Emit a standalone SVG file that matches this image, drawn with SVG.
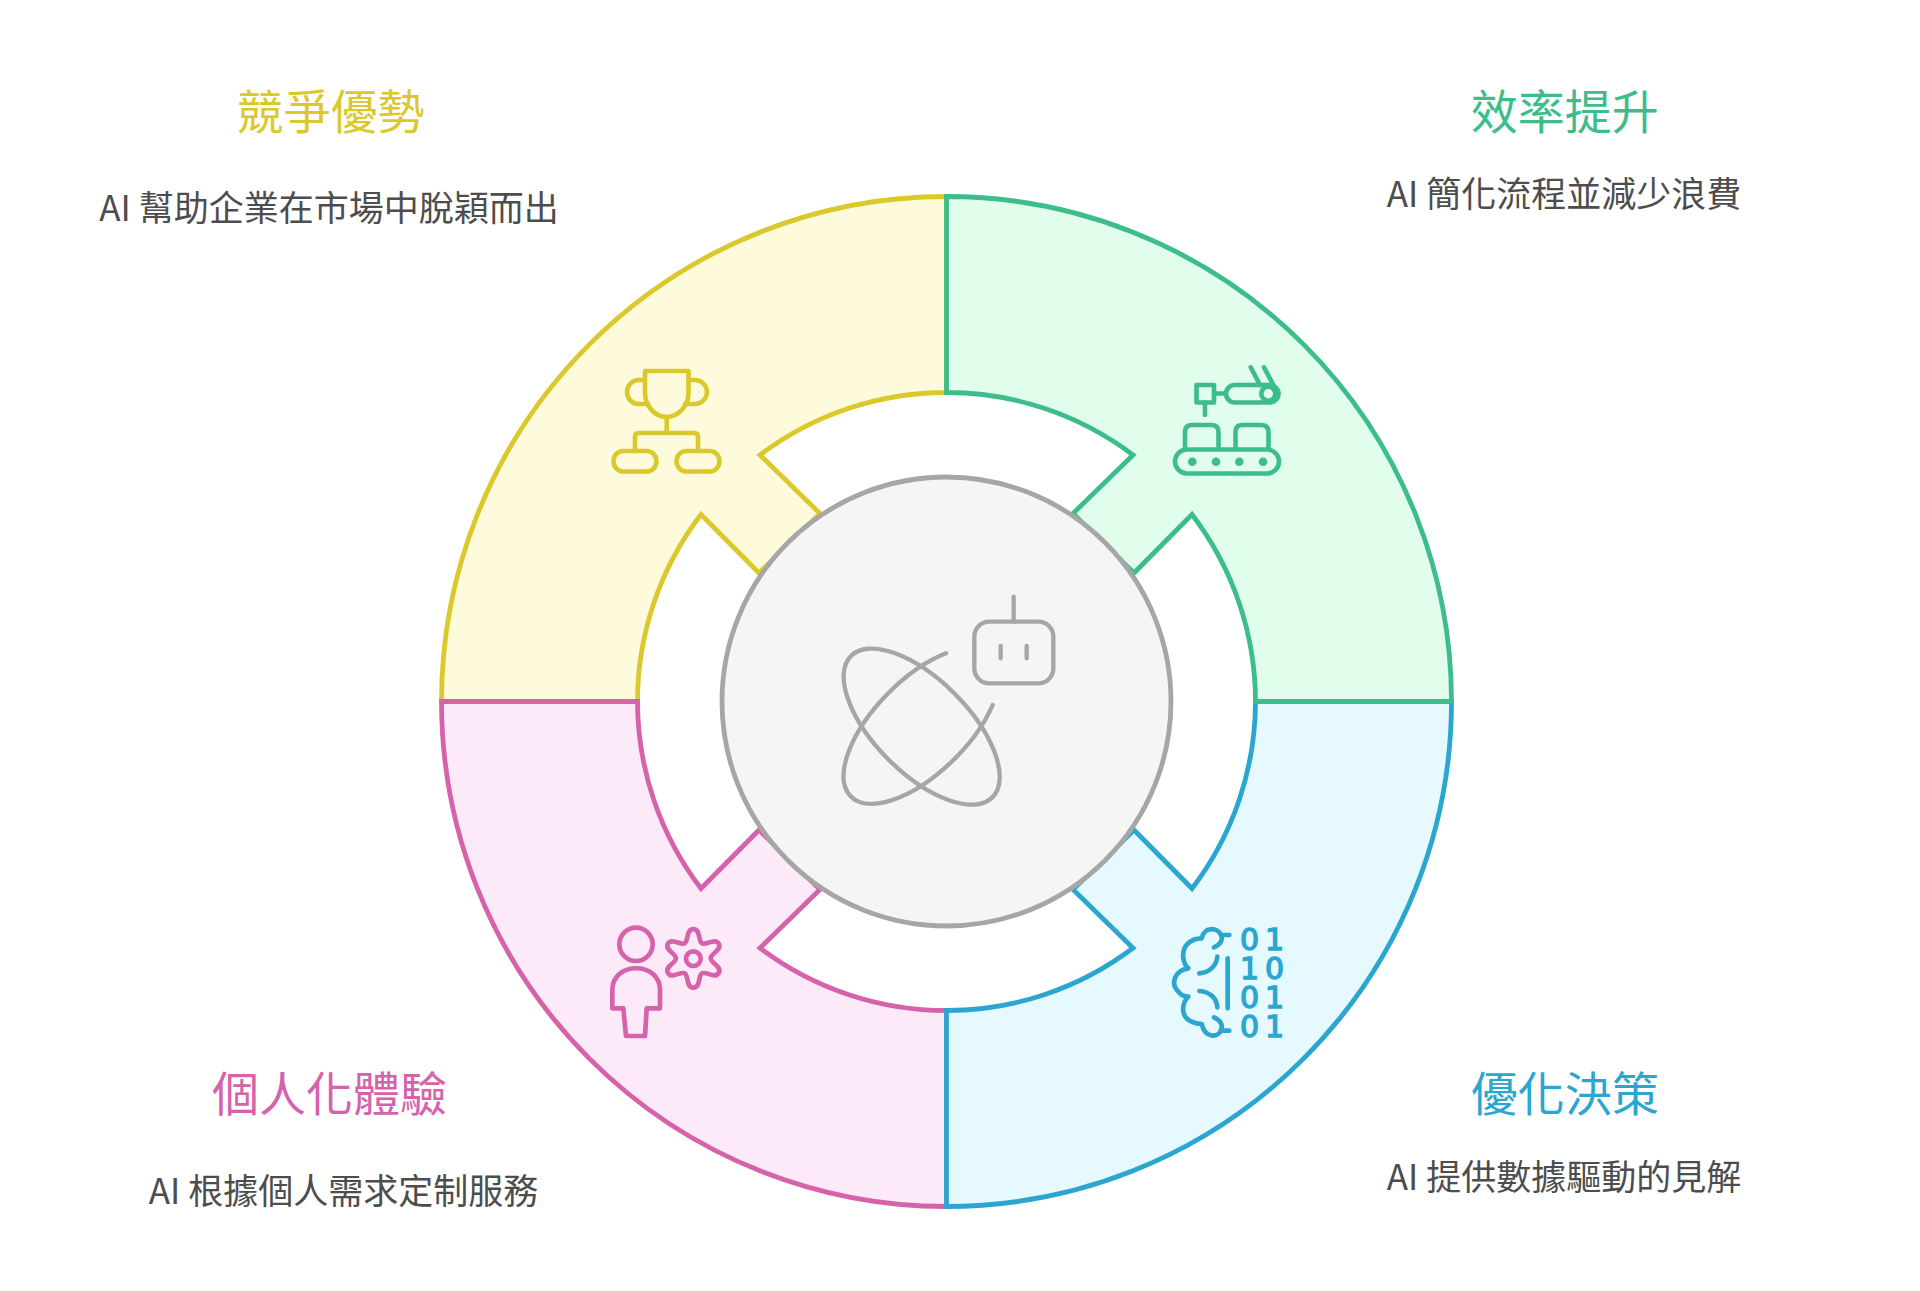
<svg xmlns="http://www.w3.org/2000/svg" width="1920" height="1291" viewBox="0 0 1920 1291">
<style>
.sector{stroke-width:4.8;stroke-linejoin:miter}
.ic{fill:none;stroke-linecap:round;stroke-linejoin:round}
.title{font-family:"Noto Sans CJK TC","Noto Sans",sans-serif;font-size:47px;text-anchor:middle}
.desc{font-family:"Noto Sans CJK TC","Noto Sans",sans-serif;font-size:35px;text-anchor:middle;fill:#4d4d4d}
.bit{font-family:"DejaVu Sans",sans-serif;font-size:30px;text-anchor:middle;fill:#2ba6d0;stroke:#2ba6d0;stroke-width:1.4px}
.yl{fill:#dbc92b}.gr{fill:#3dbd8c}.bl{fill:#2ba6d0}.pk{fill:#d662ab}
</style>
<rect width="1920" height="1291" fill="#fff"/>
<g id="competitive">
<path class="sector" fill="#fefadc" stroke="#dbc92b" d="M441.5,701.5A505,505 0 0 1 946.5,196.5V392.5A309,309 0 0 0 760,455L820,513.5L759,573L701,514.5A309,309 0 0 0 637.5,701.5Z"/>
<g class="ic" stroke="#dbc92b" stroke-width="4.6">
<path d="M645,371H688.5V393C688.5,406 678,417 666.7,417C655,417 645,406 645,393Z"/>
<path d="M645,380H638C632,380 627,386 627,392C627,398 632,404 638,404H648"/>
<path d="M688.5,380H695C702,380 707,386 707,392C707,398 702,404 695,404H685"/>
<path d="M666.7,417V433M635,450V437Q635,433 639,433H694Q698,433 698,437V450"/>
<rect x="613.5" y="451" width="43" height="20.5" rx="10"/>
<rect x="676.5" y="451" width="43" height="20.5" rx="10"/>
</g>
<text class="title yl" x="330.5" y="129">競爭優勢</text>
<text class="desc" x="329" y="221">AI 幫助企業在市場中脫穎而出</text>
</g>
<g id="personalized">
<path class="sector" fill="#fdeaf8" stroke="#d662ab" d="M946.5,1206.5A505,505 0 0 1 441.5,701.5H637.5A309,309 0 0 0 701,888.5L759,830L820,889.5L760,948A309,309 0 0 0 946.5,1010.5Z"/>
<g class="ic" stroke="#d662ab" stroke-width="14" transform="translate(590 900) scale(.33333)">
<circle cx="138" cy="133" r="50"/>
<path d="M67,325V270C67,183 210,183 210,270V325H170L165,408H108L100,325Z"/>
<circle cx="310" cy="176" r="22"/>
<path d="M310,87C332,87 323.9,123 336,130C348.1,137 375.2,111.95 386.2,131C397.2,150.05 362,161 362,175C362,189 397.2,199.95 386.2,219C375.2,238.05 348.1,213 336,220C323.9,227 332,263 310,263C288,263 296.1,227 284,220C271.9,213 244.8,238.05 233.8,219C222.8,199.95 258,189 258,175C258,161 222.8,150.05 233.8,131C244.8,111.95 271.9,137 284,130C296.1,123 288,87 310,87Z"/>
</g>
<text class="title pk" x="329.5" y="1111">個人化體驗</text>
<text class="desc" x="343.5" y="1204">AI 根據個人需求定制服務</text>
</g>
<g id="decision">
<path class="sector" fill="#e5f9fe" stroke="#2ba6d0" d="M1451.5,701.5A505,505 0 0 1 946.5,1206.5V1010.5A309,309 0 0 0 1133,948L1073,889.5L1134,830L1192,888.5A309,309 0 0 0 1255.5,701.5Z"/>
<g class="ic" stroke="#2ba6d0" stroke-width="14" transform="translate(1140 900) scale(.33333)">
<path d="M222,142C240,135 250,120 243,105C235,85 195,75 185,115C150,115 125,140 130,175Q133,195 145,205C105,210 90,250 115,275C122,285 135,290 145,290C125,310 120,350 155,365C165,370 175,372 185,372C195,415 235,415 243,390C250,375 240,360 222,352"/>
<path d="M243,105L268,105M243,392L268,392M232,170C230,195 210,218 178,220M178,273C210,275 230,295 232,322M263,175V325"/>
</g>
<g class="bits">
<text class="bit" x="1249.5 1274.5" y="949.5">01</text>
<text class="bit" x="1249.5 1274.5" y="978.5">10</text>
<text class="bit" x="1249.5 1274.5" y="1007.5">01</text>
<text class="bit" x="1249.5 1274.5" y="1036.5">01</text>
</g>
<text class="title bl" x="1564.7" y="1111">優化決策</text>
<text class="desc" x="1564" y="1190">AI 提供數據驅動的見解</text>
</g>
<g id="efficiency">
<path class="sector" fill="#e1fdec" stroke="#3dbd8c" d="M946.5,196.5A505,505 0 0 1 1451.5,701.5H1255.5A309,309 0 0 0 1192,514.5L1134,573L1073,513.5L1133,455A309,309 0 0 0 946.5,392.5Z"/>
<g class="ic" stroke="#3dbd8c" stroke-width="4.6">
<rect x="1175" y="449.5" width="104" height="24" rx="12"/>
<path d="M1185,449V432Q1185,425 1192,425H1211Q1218.5,425 1218.5,432V449M1235.5,449V432Q1235.5,425 1242.5,425H1261Q1268.5,425 1268.5,432V449"/>
<rect x="1196.5" y="385" width="17.5" height="17.5"/>
<path d="M1205,402.5V415M1214,393.5H1226"/>
<rect x="1226" y="385" width="52.5" height="17.5" rx="8.7"/>
<circle cx="1268.3" cy="393.7" r="7"/>
<path d="M1250.7,367.3L1260,385M1264,367.3L1274.3,386.7"/>
</g>
<g fill="#3dbd8c"><circle cx="1192.3" cy="461.7" r="4.3"/><circle cx="1216" cy="461.7" r="4.3"/><circle cx="1239.3" cy="461.7" r="4.3"/><circle cx="1263" cy="461.7" r="4.3"/></g>
<text class="title gr" x="1564.7" y="129">效率提升</text>
<text class="desc" x="1564" y="207">AI 簡化流程並減少浪費</text>
</g>
<g id="core">
<circle cx="946.5" cy="701.5" r="224.5" fill="#f5f5f5" stroke="#a6a6a6" stroke-width="4.8"/>
<g class="ic" stroke="#a6a6a6" stroke-width="13" transform="translate(820 580) scale(.33333)">
<rect x="463" y="125" width="237" height="185" rx="45"/>
<path d="M581,50V125M542,198V235M620,198V235"/>
<ellipse cx="305" cy="440" rx="300" ry="140" transform="rotate(45 305 440)"/>
<path d="M378,220A300,140 -45 1 0 518,375"/>
</g>
</g>
<g id="connectors"/>
</svg>
